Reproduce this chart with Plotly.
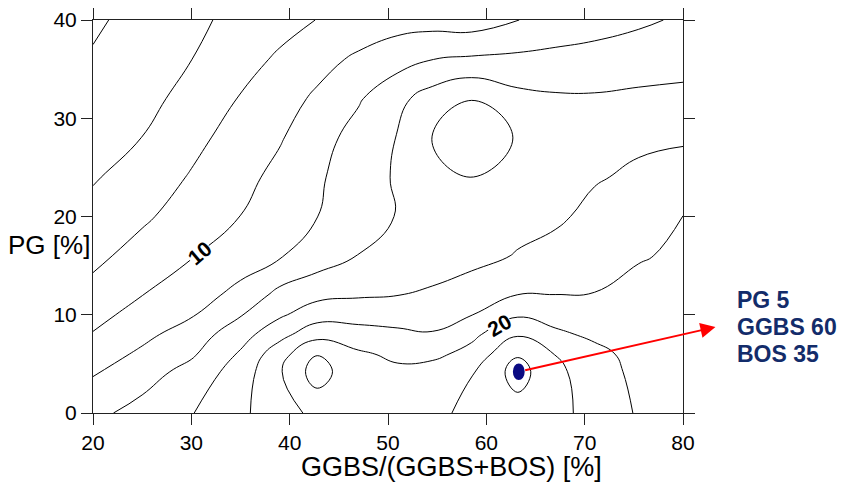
import plotly.graph_objects as go

# Grid of the response surface
x_ggbs = [20, 25, 30, 35, 39, 42.8, 47, 51, 54.5, 58.5, 63.2, 67, 71, 75.5, 80]
y_pg = [0, 4.2, 6, 8, 10, 12, 16, 20, 24, 28, 32, 36, 40]

z_y0 = [13.5, 14.7, 15.9, 17.6, 19.2, 20.5, 20.8, 21.2, 21.6, 22.4, 23.2, 22.6, 21.3, 19.8, 19.0]
z_y4 = [11.8, 13.1, 14.7, 16.9, 19.8, 23.0, 20.3, 20.4, 20.9, 21.9, 24.8, 22.5, 20.9, 19.5, 19.0]
z_y6 = [11.0, 12.35, 13.7, 16.24, 19.22, 21.9, 20.3, 19.58, 19.48, 20.7, 23.8, 21.95, 20.6, 19.3, 18.9]
z_y8 = [10.1, 11.5, 12.9, 15.2, 17.33, 19.3, 18.8, 18.4, 18.15, 19.5, 21.8, 20.4, 19.6, 19.1, 18.6]
z_y10 = [9.45, 10.64, 11.82, 13.87, 15.72, 17.09, 17.2, 17.18, 17.18, 17.95, 19.75, 19.18, 18.85, 18.8, 18.5]
z_y12 = [8.6, 9.98, 11.1, 12.6, 14.6, 15.5, 15.8, 15.98, 16.27, 16.8, 18.03, 18.02, 18.05, 18.4, 18.4]
z_y16 = [7.55, 8.7, 9.9, 11.0, 11.85, 12.9, 14.05, 14.7, 15.1, 15.5, 16.1, 16.6, 17.35, 17.9, 18.2]
z_y20 = [6.65, 7.7, 8.85, 10.02, 11.0, 11.98, 13.07, 14.1, 14.6, 15.2, 15.5, 15.7, 16.47, 17.2, 18.02]
z_y24 = [5.82, 6.9, 8.15, 9.42, 10.53, 11.72, 13.02, 14.24, 15.23, 16.03, 15.7, 15.72, 15.85, 16.3, 16.9]
z_y28 = [5.28, 6.02, 7.46, 8.8, 9.84, 11.19, 12.77, 14.1, 16.1, 16.42, 15.95, 15.4, 15.3, 15.7, 15.75]
z_y32 = [4.73, 5.35, 6.69, 8.11, 9.2, 10.32, 11.79, 13.48, 14.9, 15.98, 14.6, 14.25, 14.2, 14.37, 14.5]
z_y36 = [4.18, 5.08, 5.98, 7.27, 8.29, 9.31, 10.35, 11.22, 11.98, 12.27, 12.42, 12.65, 12.84, 13.1, 13.3]
z_y40 = [3.7, 4.64, 5.58, 6.54, 7.31, 8.04, 8.7, 9.2, 9.2, 9.0, 9.98, 10.51, 11.05, 11.66, 12.27]

z_grid = [z_y0, z_y4, z_y6, z_y8, z_y10, z_y12, z_y16, z_y20, z_y24, z_y28, z_y32, z_y36, z_y40]

contour_start, contour_end, contour_step = 4, 24, 2

# Labelled contour values and their positions on the lines
label_text = ["10", "20"]
label_x = [30.78, 61.3]
label_y = [16.25, 8.88]
label_angle = [-40, -30]

# Optimum mix point
opt_x = [63.3]
opt_y = [4.2]
opt_text = ["PG 5", "GGBS 60", "BOS 35"]

x_ticks = [20, 30, 40, 50, 60, 70, 80]
y_ticks = [0, 10, 20, 30, 40]

FONT = "Liberation Sans, Arial, Helvetica, sans-serif"

fig = go.Figure()
fig.add_trace(go.Contour(
    x=x_ggbs, y=y_pg, z=z_grid,
    contours=dict(start=contour_start, end=contour_end, size=contour_step,
                  coloring="none", showlabels=False),
    line=dict(color="black", width=1, smoothing=1.3),
    showscale=False, hoverinfo="skip",
))

axis_common = dict(
    showgrid=False, zeroline=False, showline=True, linecolor="#222", linewidth=1,
    mirror="ticks", ticks="outside", ticklen=11, tickwidth=1, tickcolor="#222",
    automargin=False,
    tickfont=dict(family=FONT, size=21, color="black"),
)
fig.update_xaxes(range=[20, 80], tickvals=x_ticks, **axis_common)
fig.update_yaxes(range=[0, 40], tickvals=y_ticks, **axis_common)

shapes = []
for px, py in zip(opt_x, opt_y):
    shapes.append(dict(type="circle", xref="x", yref="y",
                       x0=px - 0.6, x1=px + 0.6, y0=py - 0.85, y1=py + 0.85,
                       fillcolor="#0a0a82", line=dict(width=0), layer="above"))

annotations = []
for t, lx, ly, ang in zip(label_text, label_x, label_y, label_angle):
    annotations.append(dict(x=lx, y=ly, xref="x", yref="y", text="<b>%s</b>" % t,
                            showarrow=False, textangle=ang, bgcolor="white",
                            borderpad=0, font=dict(family=FONT, size=21, color="black")))

# red arrow from the optimum point to the text
annotations.append(dict(x=83.3, y=8.75, xref="x", yref="y",
                        ax=opt_x[0], ay=opt_y[0], axref="x", ayref="y",
                        text="", showarrow=True, arrowhead=2, arrowsize=1.5,
                        arrowwidth=2, arrowcolor="#ff0000", startstandoff=5))

text_y = [0.2875, 0.2188, 0.150]
for t, ty in zip(opt_text, text_y):
    annotations.append(dict(x=1.088, y=ty, xref="paper", yref="paper", text="<b>%s</b>" % t,
                            showarrow=False, xanchor="left", yanchor="middle",
                            font=dict(family=FONT, size=23, color="#132c6a")))

annotations.append(dict(x=0.607, y=-0.137, xref="paper", yref="paper",
                        text="GGBS/(GGBS+BOS) [%]", showarrow=False,
                        xanchor="center", yanchor="middle",
                        font=dict(family=FONT, size=27, color="black")))
annotations.append(dict(x=-0.002, y=0.4275, xref="paper", yref="paper",
                        text="PG [%]", showarrow=False,
                        xanchor="right", yanchor="middle",
                        font=dict(family=FONT, size=26, color="black")))

fig.update_layout(
    width=844, height=486,
    margin=dict(l=93, r=161, t=20, b=73, autoexpand=False),
    paper_bgcolor="white", plot_bgcolor="white",
    showlegend=False, shapes=shapes, annotations=annotations,
    font=dict(family=FONT),
)

fig.write_html("out.html", config={"displayModeBar": False},
               post_script="document.body.style.margin='0';document.body.style.overflow='hidden';")
